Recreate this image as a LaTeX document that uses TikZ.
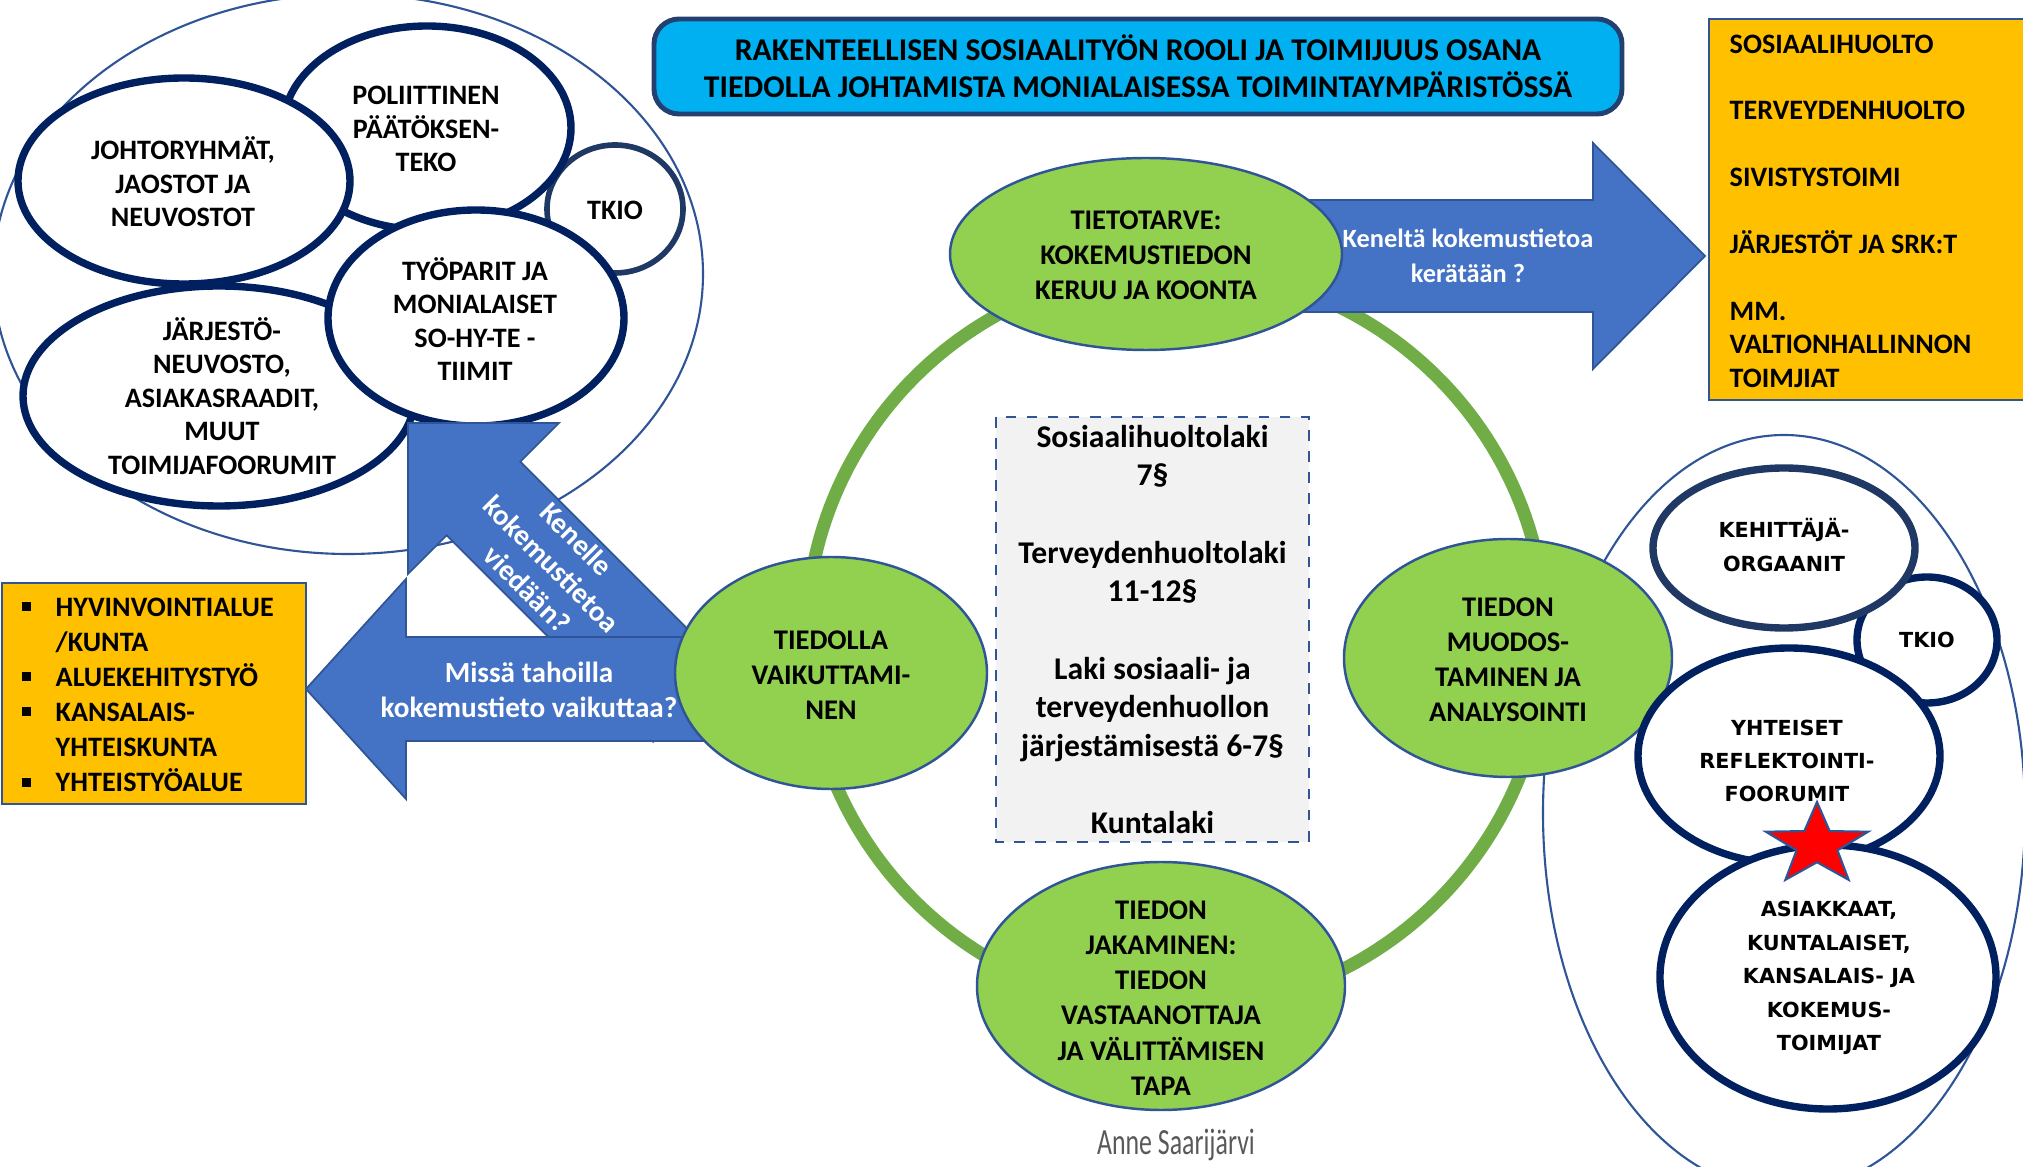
\documentclass[tikz,border=0pt]{standalone}
\usepackage{fontspec}
\setmainfont{Carlito}
\newfontfamily\verdfont{DejaVu Sans}
\newfontfamily\signfont[FakeStretch=0.7]{Carlito}
\usetikzlibrary{shapes.geometric}

\definecolor{navy}{HTML}{002060}
\definecolor{navyb}{HTML}{203864}
\definecolor{edgeblue}{HTML}{2F5597}
\definecolor{leaf}{HTML}{92D050}
\definecolor{ringgreen}{HTML}{70AD47}
\definecolor{arrowblue}{HTML}{4472C4}
\definecolor{skyblue}{HTML}{00B0F0}
\definecolor{amber}{HTML}{FFC000}
\definecolor{lawgray}{HTML}{F2F2F2}
\definecolor{signgray}{HTML}{595959}

\newcommand{\sqb}{\llap{\rule[1.5pt]{2.6pt}{2.6pt}\hspace{7pt}}}

\tikzset{
  thinring/.style={draw=edgeblue, line width=0.6pt},
  bubble/.style={draw=navy, fill=white, line width=2.1pt},
  greenball/.style={draw=edgeblue, fill=leaf, line width=0.7pt},
  bigarrow/.style={draw=edgeblue, fill=arrowblue, line width=0.5pt},
  ltxt/.style={font=\bfseries\fontsize{8}{9.5}\selectfont, align=center, inner sep=0pt},
  gtxt/.style={font=\bfseries\fontsize{8.1}{10}\selectfont, align=center, inner sep=0pt},
  rtxt/.style={font=\verdfont\bfseries\fontsize{5.9}{9.5}\selectfont, align=center, inner sep=0pt},
  wtxt/.style={text=white, font=\bfseries\fontsize{8.3}{10}\selectfont, align=center, inner sep=0pt},
  boxtxt/.style={anchor=north west, inner sep=0pt, align=left, text=black},
}

\begin{document}
\begin{tikzpicture}[x=0.01cm, y=-0.01cm]
\useasboundingbox (0,0) rectangle (2023,1167);

\draw[thinring] (348,274) ellipse [x radius=355, y radius=280];
\draw[bubble, draw=navyb, line width=1.6pt] (615,209) ellipse [x radius=68, y radius=64];
\draw[bubble] (427,128) ellipse [x radius=144, y radius=102];
\draw[bubble] (184,181) ellipse [x radius=166, y radius=103];
\draw[bubble] (219,396) ellipse [x radius=196, y radius=110];
\draw[bubble] (476,318) ellipse [x radius=148, y radius=108];
\node[ltxt] (poli) at (426,129) {POLIITTINEN\\PÄÄTÖKSEN-\\TEKO};
\node[ltxt] (johto) at (183,182) {JOHTORYHMÄT,\\JAOSTOT JA\\NEUVOSTOT};
\node[ltxt] (tkioa) at (615,210) {TKIO};
\node[ltxt] (tyo) at (475,319) {TYÖPARIT JA\\MONIALAISET\\SO-HY-TE -\\TIIMIT};
\node[ltxt] (jarj) at (222,396) {JÄRJESTÖ-\\NEUVOSTO,\\ASIAKASRAADIT,\\MUUT\\TOIMIJAFOORUMIT};

\draw[thinring] (1784,813) ellipse [x radius=241, y radius=378];

\draw[ringgreen, line width=3.7pt] (1176,639) circle [radius=370];

\draw[bigarrow] (408,423) -- (559,423) -- (520.3,461.7) -- (726.8,668.2) -- (653.2,741.8)
  -- (446.7,535.3) -- (408,574) -- cycle;
\draw[bigarrow] (306,689) -- (406,579) -- (406,637) -- (720,637) -- (720,741) -- (406,741)
  -- (406,799) -- cycle;
\draw[bigarrow] (1300,200) -- (1593,200) -- (1593,143) -- (1705,256) -- (1593,369)
  -- (1593,312) -- (1300,312) -- cycle;
\node[wtxt, rotate=-45] (towhom) at (552,564) {Kenelle\\kokemustietoa\\viedään?};
\node[wtxt] (whereto) at (529,690) {Missä tahoilla\\kokemustieto vaikuttaa?};
\node[wtxt, font=\bfseries\fontsize{7.5}{10}\selectfont] (fromwhom) at (1468,256) {Keneltä kokemustietoa\\kerätään ?};

\draw[greenball] (1146,254) ellipse [x radius=196, y radius=96];
\draw[greenball] (831,673) ellipse [x radius=156, y radius=116];
\draw[greenball] (1508,658) ellipse [x radius=164, y radius=119];
\draw[greenball] (1161,986) ellipse [x radius=184, y radius=124];
\node[gtxt] (need) at (1146,255) {TIETOTARVE:\\KOKEMUSTIEDON\\KERUU JA KOONTA};
\node[gtxt] (impact) at (831,675) {TIEDOLLA\\VAIKUTTAMI-\\NEN};
\node[gtxt] (analysis) at (1508,660) {TIEDON\\MUODOS-\\TAMINEN JA\\ANALYSOINTI};
\node[gtxt] (sharing) at (1161,998) {TIEDON\\JAKAMINEN:\\TIEDON\\VASTAANOTTAJA\\JA VÄLITTÄMISEN\\TAPA};

\draw[bubble] (1927,640) ellipse [x radius=70, y radius=63];
\draw[bubble, draw=navyb] (1784,548) ellipse [x radius=131, y radius=80];
\draw[bubble] (1789,756) ellipse [x radius=151, y radius=108];
\draw[bubble] (1828,977) ellipse [x radius=168, y radius=132];
\node[rtxt] (devel) at (1784,545) {KEHITTÄJÄ-\\ORGAANIT};
\node[rtxt] (tkiob) at (1927,640) {TKIO};
\node[rtxt] (reflect) at (1787,761) {YHTEISET\\REFLEKTOINTI-\\FOORUMIT};
\node[rtxt] (clients) at (1829,978) {ASIAKKAAT,\\KUNTALAISET,\\KANSALAIS- JA\\KOKEMUS-\\TOIMIJAT};
\node[star, star points=5, star point ratio=2.5, fill=red, draw=edgeblue, line width=0.6pt,
  minimum size=0.86cm, inner sep=0pt, xscale=1.25, transform shape] (star) at (1817,845) {};

\draw[edgeblue, dashed, fill=lawgray, line width=0.6pt] (996,417) rectangle (1309,842)
  node[pos=.5, text=black, font=\bfseries\fontsize{9}{11}\selectfont, align=center, inner sep=0pt] (laws)
  {Sosiaalihuoltolaki\\7§\\[11pt]Terveydenhuoltolaki\\11-12§\\[11pt]Laki sosiaali- ja\\terveydenhuollon\\järjestämisestä 6-7§\\[11pt]Kuntalaki};

\draw[edgeblue!75!black, fill=skyblue, line width=1.4pt, rounded corners=2.5mm] (654,19) rectangle (1622,114)
  node[pos=.5, text=black, font=\bfseries\fontsize{9}{10.6}\selectfont, align=center, inner sep=0pt] (title)
  {RAKENTEELLISEN SOSIAALITYÖN ROOLI JA TOIMIJUUS OSANA\\TIEDOLLA JOHTAMISTA MONIALAISESSA TOIMINTAYMPÄRISTÖSSÄ};

\draw[edgeblue, fill=amber, line width=0.8pt] (1709,19) rectangle (2035,400);
\node[boxtxt, font=\bfseries\fontsize{8}{9.5}\selectfont] (sectors) at (1729,34)
  {SOSIAALIHUOLTO\\[9.5pt]TERVEYDENHUOLTO\\[9.5pt]SIVISTYSTOIMI\\[9.5pt]JÄRJESTÖT JA SRK:T\\[9.5pt]MM.\\VALTIONHALLINNON\\TOIMJIAT};

\draw[edgeblue, fill=amber, line width=0.8pt] (2,583) rectangle (306,804);
\node[boxtxt, font=\bfseries\fontsize{8}{10}\selectfont] (areas) at (55,597)
  {\sqb HYVINVOINTIALUE\\/KUNTA\\\sqb ALUEKEHITYSTYÖ\\\sqb KANSALAIS-\\YHTEISKUNTA\\\sqb YHTEISTYÖALUE};

\node[text=signgray, font=\signfont\fontsize{10.5}{12}\selectfont] (author) at (1176,1145) {Anne Saarijärvi};
\end{tikzpicture}
\end{document}
